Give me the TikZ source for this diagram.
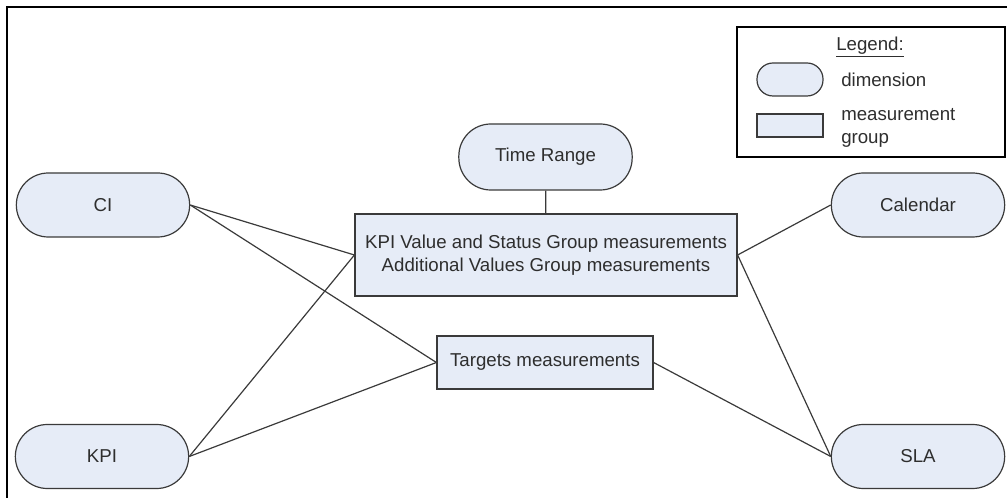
\documentclass[tikz,border=0pt]{standalone}
\usepackage{fontspec}
\setmainfont{Liberation Sans}
\definecolor{boxfill}{HTML}{E6ECF7}
\definecolor{edge}{HTML}{3A3A3A}
\definecolor{txt}{HTML}{2E2E2E}
\begin{document}
\begin{tikzpicture}[x=0.75pt,y=-0.75pt,
  every node/.style={font=\fontsize{14}{17}\selectfont, text=txt},
  dim/.style={draw=edge, line width=0.9pt, fill=boxfill, rectangle, rounded corners=24pt, minimum width=130pt, minimum height=48pt, inner sep=0pt},
  mgroup/.style={draw=edge, line width=0.9pt, fill=boxfill, rectangle, inner sep=0pt, align=center},
  conn/.style={draw=edge, line width=0.9pt}]
\useasboundingbox (0,0) rectangle (1007,498);
\draw[line width=1.5pt, black] (6.5,1200) -- (6.5,7.5) -- (1200,7.5);

% legend
\node[draw=black, line width=0.9pt, minimum width=201pt, minimum height=97.5pt, inner sep=0pt] (legend) at (871,92) {};
\node (legtitle) at (870,47) {\underline{Legend:}};
\node[draw=edge, line width=0.9pt, fill=boxfill, rounded corners=12pt, minimum width=49.5pt, minimum height=24.75pt, inner sep=0pt] (legdim) at (790,79.5) {};
\node[anchor=west, inner sep=0pt] (legdimtxt) at (841,80) {dimension};
\node[draw=edge, line width=0.9pt, fill=boxfill, minimum width=49.5pt, minimum height=17.25pt, inner sep=0pt] (legmg) at (790,125.5) {};
\node[anchor=west, inner sep=0pt, align=left] (legmgtxt) at (841,128) {measurement\\group};

% dimensions
\node[dim] (ci) at (103,205) {CI};
\node[dim] (kpi) at (102,456.5) {KPI};
\node[dim] (cal) at (918,205) {Calendar};
\node[dim] (sla) at (918,456.5) {SLA};
\node[dim, minimum height=49.5pt] (time) at (545.5,157) {Time Range};

% measurement groups
\node[mgroup, minimum width=286.5pt, minimum height=61.5pt] (main) at (546,255) {KPI Value and Status Group measurements\\Additional Values Group measurements};
\node[mgroup, minimum width=162pt, minimum height=39.75pt] (tgt) at (545,362.5) {Targets measurements};

% connectors
\draw[conn] (time) -- (main);
\draw[conn] (ci.east) -- (main.west);
\draw[conn] (ci.east) -- (tgt.west);
\draw[conn] (kpi.east) -- (main.west);
\draw[conn] (kpi.east) -- (tgt.west);
\draw[conn] (cal.west) -- (main.east);
\draw[conn] (sla.west) -- (main.east);
\draw[conn] (sla.west) -- (tgt.east);
\end{tikzpicture}
\end{document}
